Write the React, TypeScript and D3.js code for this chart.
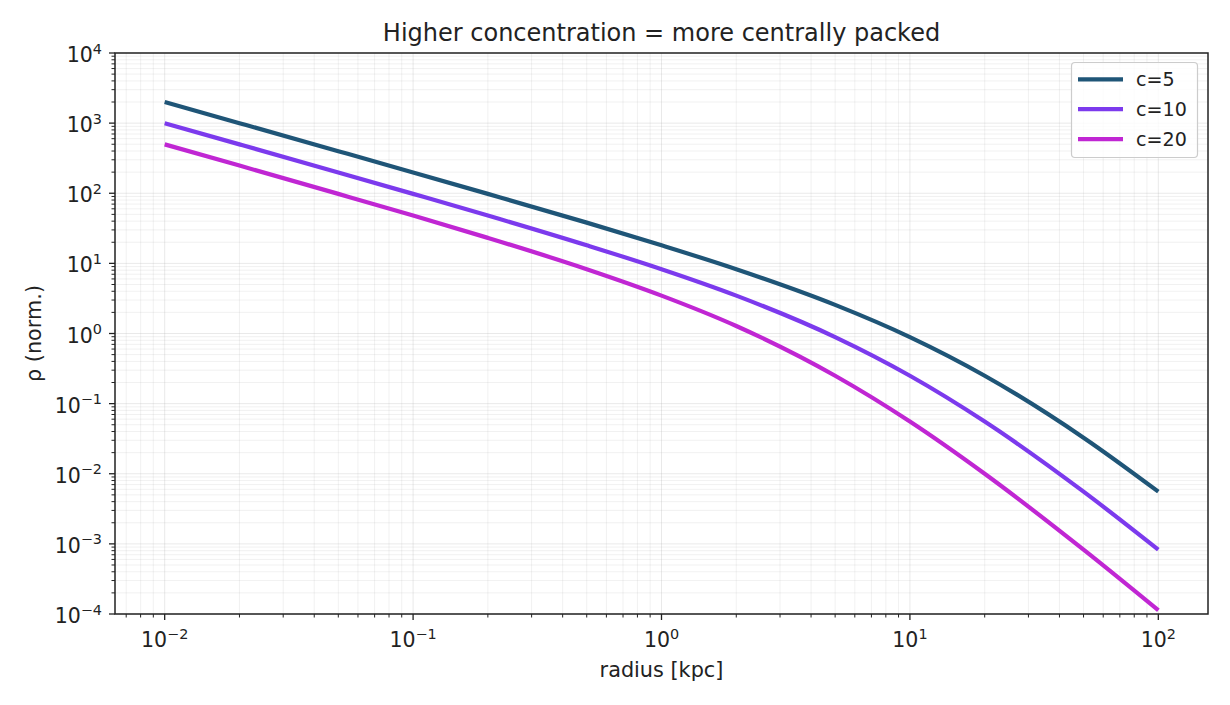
import { useEffect } from 'react'
import * as d3 from 'd3'

// ── data ────────────────────────────────────────────────────────────────────
const RADII   = [0.01, 0.02, 0.05, 0.1, 0.2, 0.5, 1, 2, 5, 10, 20, 50, 100]
const RHO_C5  = [1998, 998, 398, 198, 98.0, 38.1, 18.1, 8.26, 2.56, 0.889, 0.25, 0.0327, 0.00556]
const RHO_C10 = [998, 498, 198, 98.0, 48.1, 18.1, 8.26, 3.47, 0.889, 0.25, 0.0556, 0.00556, 0.000826]
const RHO_C20 = [498, 248, 98.0, 48.1, 23.1, 8.26, 3.47, 1.28, 0.25, 0.0556, 0.01, 0.000826, 0.000113]

const SERIES = [
  { label: 'c=5',  values: RHO_C5,  color: '#1f5577' },
  { label: 'c=10', values: RHO_C10, color: '#7c3aed' },
  { label: 'c=20', values: RHO_C20, color: '#c026d3' },
]

const X_DECADES = [-2, -1, 0, 1, 2]
const Y_DECADES = [-4, -3, -2, -1, 0, 1, 2, 3, 4]

// ── layout ──────────────────────────────────────────────────────────────────
const W = 1230
const H = 705
const M = { top: 53, right: 22, bottom: 91, left: 115 }
const FONT = '"DejaVu Sans", sans-serif'
const INK = '#222'
const LW = 4.2

const x = d3.scaleLog().domain([10 ** -2.2, 10 ** 2.2]).range([M.left, W - M.right])
const y = d3.scaleLog().domain([1e-4, 1e4]).range([H - M.bottom, M.top])

function minorTicks(lo: number, hi: number, domain: [number, number]) {
  const out: number[] = []
  for (let e = lo; e <= hi; e++) {
    for (let k = 2; k <= 9; k++) {
      const v = k * 10 ** e
      if (v >= domain[0] && v <= domain[1]) out.push(v)
    }
  }
  return out
}

const xMinor = minorTicks(-3, 2, x.domain() as [number, number])
const yMinor = minorTicks(-4, 3, y.domain() as [number, number])

function Pow({ e }: { e: number }) {
  return (
    <>
      <tspan>10</tspan>
      <tspan dy={-8.5} fontSize={14.4}>{e < 0 ? `\u2212${-e}` : `${e}`}</tspan>
    </>
  )
}

export default function App() {
  useEffect(() => { document.body.style.margin = '0' }, [])

  const line = d3.line<[number, number]>()
    .x(d => x(d[0]))
    .y(d => y(d[1]))
    .curve(d3.curveMonotoneX)

  const x0 = M.left, x1 = W - M.right, y0 = M.top, y1 = H - M.bottom

  return (
    <svg width={W} height={H} style={{ display: 'block', background: '#fff' }} fontFamily={FONT}>
      {/* grid */}
      <g stroke="#b0b0b0" strokeWidth={0.8}>
        {xMinor.map(v => <line key={'xm' + v} x1={x(v)} x2={x(v)} y1={y0} y2={y1} strokeOpacity={0.22} />)}
        {yMinor.map(v => <line key={'ym' + v} x1={x0} x2={x1} y1={y(v)} y2={y(v)} strokeOpacity={0.22} />)}
        {X_DECADES.map(e => <line key={'xM' + e} x1={x(10 ** e)} x2={x(10 ** e)} y1={y0} y2={y1} strokeOpacity={0.35} />)}
        {Y_DECADES.map(e => <line key={'yM' + e} x1={x0} x2={x1} y1={y(10 ** e)} y2={y(10 ** e)} strokeOpacity={0.35} />)}
      </g>

      {/* curves */}
      <g fill="none" strokeWidth={LW} strokeLinejoin="round">
        {SERIES.map(s => (
          <path key={s.label} stroke={s.color}
            d={line(RADII.map((r, i) => [r, s.values[i]] as [number, number])) ?? ''} />
        ))}
      </g>

      {/* frame */}
      <rect x={x0} y={y0} width={x1 - x0} height={y1 - y0} fill="none" stroke={INK} strokeWidth={1.5} />

      {/* ticks */}
      <g stroke={INK} strokeWidth={1.3}>
        {X_DECADES.map(e => <line key={'xt' + e} x1={x(10 ** e)} x2={x(10 ** e)} y1={y1} y2={y1 + 6} />)}
        {xMinor.map(v => <line key={'xtm' + v} x1={x(v)} x2={x(v)} y1={y1} y2={y1 + 3.5} strokeWidth={1} />)}
        {Y_DECADES.map(e => <line key={'yt' + e} x1={x0 - 6} x2={x0} y1={y(10 ** e)} y2={y(10 ** e)} />)}
        {yMinor.map(v => <line key={'ytm' + v} x1={x0 - 3.5} x2={x0} y1={y(v)} y2={y(v)} strokeWidth={1} />)}
      </g>

      <g fontSize={20.5} fill={INK}>
        {X_DECADES.map(e => (
          <text key={'xl' + e} x={x(10 ** e)} y={y1 + 33} textAnchor="middle"><Pow e={e} /></text>
        ))}
        {Y_DECADES.map(e => (
          <text key={'yl' + e} x={x0 - 13} y={y(10 ** e) + 9} textAnchor="end"><Pow e={e} /></text>
        ))}
      </g>

      {/* labels */}
      <text x={(x0 + x1) / 2} y={41} textAnchor="middle" fontSize={24} fill={INK}>
        Higher concentration = more centrally packed
      </text>
      <text x={(x0 + x1) / 2} y={677} textAnchor="middle" fontSize={20.8} fill={INK}>radius [kpc]</text>
      <text transform={`translate(41,${(y0 + y1) / 2}) rotate(-90)`} textAnchor="middle" fontSize={20.8} fill={INK}>
        ρ (norm.)
      </text>

      {/* legend */}
      <g>
        <rect x={1071.5} y={62.5} width={126} height={95} rx={3.5} fill="#fff" fillOpacity={0.8} stroke="#ccc" strokeWidth={1.2} />
        {SERIES.map((s, i) => (
          <g key={'lg' + s.label} transform={`translate(1078,${79.3 + i * 29.9})`}>
            <line x1={0} x2={45} y1={0} y2={0} stroke={s.color} strokeWidth={LW} />
            <text x={58} y={6.8} fontSize={19.1} fill={INK}>{s.label}</text>
          </g>
        ))}
      </g>
    </svg>
  )
}
